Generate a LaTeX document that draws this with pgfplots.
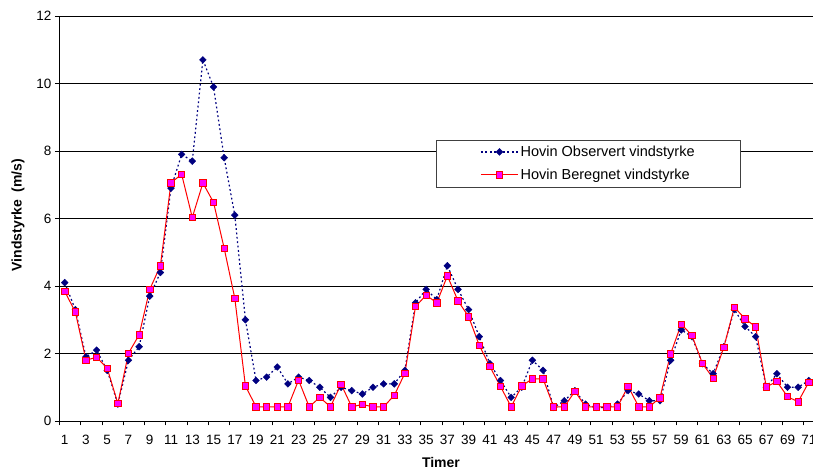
\documentclass[border=0pt]{standalone}
\usepackage{pgfplots}
\pgfplotsset{compat=1.18}
\usepackage{fontspec}
\setmainfont{Liberation Sans}
\definecolor{navyblue}{RGB}{0,0,128}
\definecolor{magentafill}{RGB}{255,0,255}
\definecolor{redline}{RGB}{255,0,0}
\pgfplotstableread{
x y
1 4.1
2 3.3
3 1.9
4 2.1
5 1.5
6 0.5
7 1.8
8 2.2
9 3.7
10 4.4
11 6.9
12 7.9
13 7.7
14 10.7
15 9.9
16 7.8
17 6.1
18 3.0
19 1.2
20 1.3
21 1.6
22 1.1
23 1.3
24 1.2
25 1.0
26 0.7
27 1.0
28 0.9
29 0.8
30 1.0
31 1.1
32 1.1
33 1.5
34 3.5
35 3.9
36 3.6
37 4.6
38 3.9
39 3.3
40 2.5
41 1.7
42 1.2
43 0.7
44 1.0
45 1.8
46 1.5
47 0.4
48 0.6
49 0.9
50 0.5
51 0.4
52 0.4
53 0.5
54 0.9
55 0.8
56 0.6
57 0.6
58 1.8
59 2.7
60 2.5
61 1.7
62 1.4
63 2.2
64 3.3
65 2.8
66 2.5
67 1.0
68 1.4
69 1.0
70 1.0
71 1.2
}\observed
\pgfplotstableread{
x y
1 3.84
2 3.23
3 1.80
4 1.89
5 1.56
6 0.52
7 2.01
8 2.55
9 3.90
10 4.60
11 7.06
12 7.31
13 6.03
14 7.05
15 6.48
16 5.12
17 3.64
18 1.04
19 0.42
20 0.42
21 0.42
22 0.42
23 1.21
24 0.42
25 0.70
26 0.42
27 1.09
28 0.42
29 0.49
30 0.42
31 0.42
32 0.76
33 1.41
34 3.39
35 3.73
36 3.50
37 4.30
38 3.56
39 3.09
40 2.24
41 1.61
42 1.02
43 0.42
44 1.04
45 1.25
46 1.25
47 0.42
48 0.42
49 0.88
50 0.42
51 0.42
52 0.42
53 0.42
54 1.03
55 0.42
56 0.42
57 0.69
58 1.99
59 2.87
60 2.54
61 1.70
62 1.27
63 2.18
64 3.37
65 3.03
66 2.79
67 1.01
68 1.17
69 0.72
70 0.57
71 1.15
}\computed
\begin{document}
\begin{tikzpicture}
\begin{axis}[
  at={(0pt,0pt)}, anchor=south west,
  scale only axis,
  width=754.7pt, height=405pt,
  xmin=0.5, xmax=71.5, ymin=0, ymax=12,
  axis lines=left,
  axis line style={-, black, line width=0.8pt},
  ytick={0,2,...,12},
  ymajorgrids,
  grid style={black, line width=0.6pt},
  xtick={1,3,...,71},
  minor xtick={0.5,2.5,...,70.5},
  major x tick style={draw=none},
  minor x tick style={black, line width=0.8pt},
  major y tick style={black, line width=0.8pt},
  tick align=outside,
  major tick length=4.5pt, minor tick length=4.5pt,
  /pgf/number format/assume math mode=true,
  tick label style={font=\fontsize{13.5}{16}\selectfont},
  x tick label style={yshift=-6pt},
  xlabel={\bfseries Timer},
  ylabel={\bfseries Vindstyrke\ \ (m/s)},
  label style={font=\fontsize{14}{16}\selectfont},
  xlabel style={at={(axis description cs:0.5056,0)}, anchor=center, yshift=-41pt},
  ylabel style={at={(axis description cs:0,0.5086)}, anchor=center, yshift=41.4pt},
  legend cell align=left,
  legend image code/.code={%
    \draw[mark repeat=2,mark phase=2,#1] plot coordinates {(0pt,0pt) (18.5pt,0pt) (37pt,0pt)};},
  legend style={at={(0.499,0.6950)}, anchor=north west, draw=black!75, line width=0.8pt,
    fill=white, inner xsep=44pt, inner ysep=4pt, row sep=7pt,
    font=\fontsize{14.5}{17}\selectfont},
]
\addplot[navyblue, line width=1.2pt, dash pattern=on 1.8pt off 2.6pt,
  mark=square*, mark size=2.4pt,
  mark options={solid, rotate=45, fill=navyblue, draw=navyblue, line width=0.4pt}]
  table[x=x,y=y] {\observed};
\addlegendentry{Hovin Observert vindstyrke}
\addplot[redline, line width=1pt,
  mark=square*, mark size=3.2pt,
  mark options={solid, fill=magentafill, draw=redline, line width=0.8pt}]
  table[x=x,y=y] {\computed};
\addlegendentry{Hovin Beregnet vindstyrke}
\end{axis}
\pgfresetboundingbox
\path[use as bounding box] (-59.4pt,-49pt) rectangle (753.6pt,421pt);
\end{tikzpicture}
\end{document}
